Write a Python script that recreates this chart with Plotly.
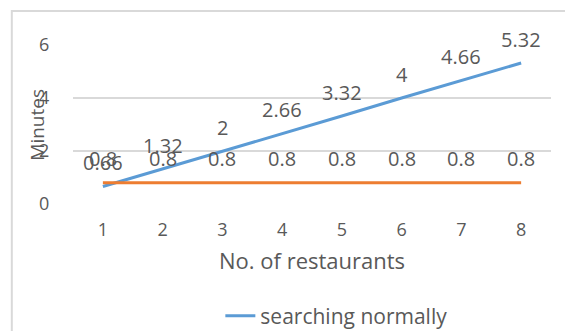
import plotly.graph_objects as go

# Search time per number of restaurants
restaurants = [1, 2, 3, 4, 5, 6, 7, 8]
searching_normally = [0.66, 1.32, 2, 2.66, 3.32, 4, 4.66, 5.32]
other_method = [0.8, 0.8, 0.8, 0.8, 0.8, 0.8, 0.8, 0.8]
y_ticks = [0, 2, 4, 6]

BLUE = "#5B9BD5"
ORANGE = "#ED7D31"
TEXT = "#595959"
GRID = "#D9D9D9"
FONT = "Open Sans"

fig = go.Figure()
fig.add_trace(go.Scatter(
    x=restaurants, y=searching_normally, mode="lines",
    line=dict(color=BLUE, width=3), name="searching normally",
))
fig.add_trace(go.Scatter(
    x=restaurants, y=other_method, mode="lines",
    line=dict(color=ORANGE, width=3), showlegend=False,
))

# Value labels sit a little above each point
for xs, ys in ((restaurants, other_method), (restaurants, searching_normally)):
    for x, y in zip(xs, ys):
        fig.add_annotation(
            x=x, y=y, text=f"{y:g}", showarrow=False, yshift=24,
            xanchor="center", yanchor="middle",
            font=dict(family=FONT, size=20, color=TEXT),
        )

fig.add_annotation(
    xref="paper", yref="paper", x=-0.077, y=0.5, text="Minutes",
    textangle=-90, showarrow=False, xanchor="center", yanchor="middle",
    font=dict(family=FONT, size=19, color=TEXT),
)
fig.add_annotation(
    xref="paper", yref="paper", x=0.5, y=-0.352, text="No. of restaurants",
    showarrow=False, xanchor="center", yanchor="middle",
    font=dict(family=FONT, size=22, color=TEXT),
)

# Outer chart frame
fig.add_shape(
    type="rect", xref="paper", yref="paper",
    x0=-0.128, x1=1.2, y0=-1.5, y1=1.214,
    line=dict(color=GRID, width=2), layer="below",
)

fig.update_layout(
    width=565, height=331,
    margin=dict(l=73, r=14, t=45, b=127, autoexpand=False),
    paper_bgcolor="white", plot_bgcolor="white",
    font=dict(family=FONT, color=TEXT),
    showlegend=True,
    legend=dict(
        orientation="h", xref="container", yref="container",
        x=0.39, xanchor="left", y=0.045, yanchor="middle",
        font=dict(family=FONT, size=21, color=TEXT),
    ),
    xaxis=dict(
        range=[0.5, 8.5], tickvals=restaurants, showgrid=False,
        showline=False, zeroline=False, ticks="outside", ticklen=9,
        tickcolor="rgba(0,0,0,0)", tickfont=dict(family=FONT, size=18, color=TEXT),
        automargin=False,
    ),
    yaxis=dict(
        range=[0, 6], tickvals=y_ticks, showgrid=True, gridcolor=GRID,
        gridwidth=1.5, zeroline=False, showline=False, ticks="outside",
        ticklen=19, tickcolor="rgba(0,0,0,0)",
        tickfont=dict(family=FONT, size=18, color=TEXT),
        automargin=False,
    ),
)

fig.write_html("out.html")
